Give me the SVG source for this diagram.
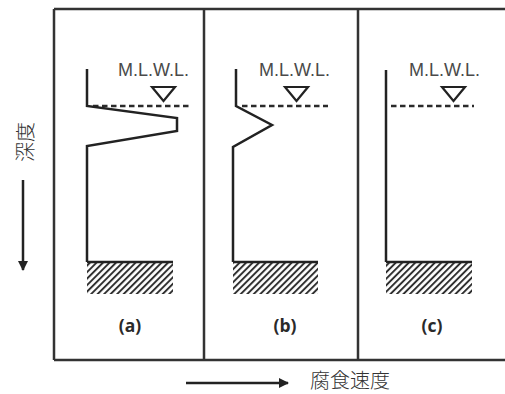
<svg xmlns="http://www.w3.org/2000/svg" width="505" height="394" viewBox="0 0 505 394">
  <style>
    .frame { fill: none; stroke: #333; stroke-width: 2.5; }
    .profile { fill: none; stroke: #222; stroke-width: 2.5; stroke-linejoin: miter; }
    .water { fill: none; stroke: #2a2a2a; stroke-width: 2.5; stroke-dasharray: 5.5 3.5; }
    .mark { fill: #fff; stroke: #222; stroke-width: 2.2; stroke-linejoin: miter; }
    .lvl { font-family: "Liberation Sans", Arial, sans-serif; font-size: 18px; fill: #4a4a4a; }
    .tag { font-family: "Open Sans", "Liberation Sans", sans-serif; font-weight: bold; font-size: 17.5px; fill: #2a2a2a; text-anchor: middle; }
    .axis-label { font-family: "Noto Sans CJK JP", "Noto Sans CJK SC", sans-serif; font-size: 20px; font-weight: 300; fill: #333; }
    .seabed-top { stroke: #222; stroke-width: 2.5; }
  </style>
  <defs>
    <pattern id="hatch" patternUnits="userSpaceOnUse" width="4.6" height="4.6" patternTransform="rotate(45)">
      <line x1="1" y1="0" x2="1" y2="4.6" stroke="#2a2a2a" stroke-width="1.9"/>
    </pattern>
    <marker id="arrowhead" viewBox="0 0 10 10" refX="9" refY="5" markerWidth="4" markerHeight="4" orient="auto" markerUnits="strokeWidth">
      <path d="M0,0 L10,5 L0,10 Z" fill="#222"/>
    </marker>
  </defs>

  <rect width="505" height="394" fill="#fff"/>

  <!-- outer frame and panel dividers -->
  <g id="frame" class="frame">
    <path d="M54,9 H505 M54,360 H505 M54,9 V360 M204,9 V360 M358,9 V360"/>
  </g>

  <!-- panel (a): strong local corrosion just below low water -->
  <g id="panel-a">
    <text class="lvl" x="118" y="76">M.L.W.L.</text>
    <path class="mark" d="M152,87 H175 L163.5,101 Z"/>
    <line class="water" x1="93" y1="106" x2="190" y2="106"/>
    <path class="profile" d="M87,69 V106 L177,118 V131 L87,146 V262"/>
    <rect x="87" y="262" width="86" height="32" fill="url(#hatch)"/>
    <line class="seabed-top" x1="87" y1="262" x2="173" y2="262"/>
    <text class="tag" x="130" y="332">(a)</text>
  </g>

  <!-- panel (b): moderate local corrosion -->
  <g id="panel-b">
    <text class="lvl" x="259" y="76">M.L.W.L.</text>
    <path class="mark" d="M285,87 H308 L296.5,101 Z"/>
    <line class="water" x1="242" y1="106" x2="328" y2="106"/>
    <path class="profile" d="M236,69 V106 L272,125 L233,147 V262"/>
    <rect x="233" y="262" width="85" height="32" fill="url(#hatch)"/>
    <line class="seabed-top" x1="233" y1="262" x2="318" y2="262"/>
    <text class="tag" x="285" y="332">(b)</text>
  </g>

  <!-- panel (c): uniform corrosion -->
  <g id="panel-c">
    <text class="lvl" x="409" y="76">M.L.W.L.</text>
    <path class="mark" d="M442,87 H465 L453.5,101 Z"/>
    <line class="water" x1="391" y1="106" x2="474" y2="106"/>
    <path class="profile" d="M386,70 V262"/>
    <rect x="386" y="262" width="86" height="32" fill="url(#hatch)"/>
    <line class="seabed-top" x1="386" y1="262" x2="472" y2="262"/>
    <text class="tag" x="432" y="332">(c)</text>
  </g>

  <!-- axes -->
  <g id="connectors">
    <line x1="23" y1="180" x2="23" y2="270" stroke="#222" stroke-width="2.5" marker-end="url(#arrowhead)"/>
    <line x1="186" y1="383" x2="288" y2="383" stroke="#222" stroke-width="2.5" marker-end="url(#arrowhead)"/>
  </g>

  <g id="axis-labels">
    <text class="axis-label" transform="translate(33,142) rotate(-90)" text-anchor="middle">深度</text>
    <text class="axis-label" x="310" y="388" font-size="19.5">腐食速度</text>
  </g>
</svg>
